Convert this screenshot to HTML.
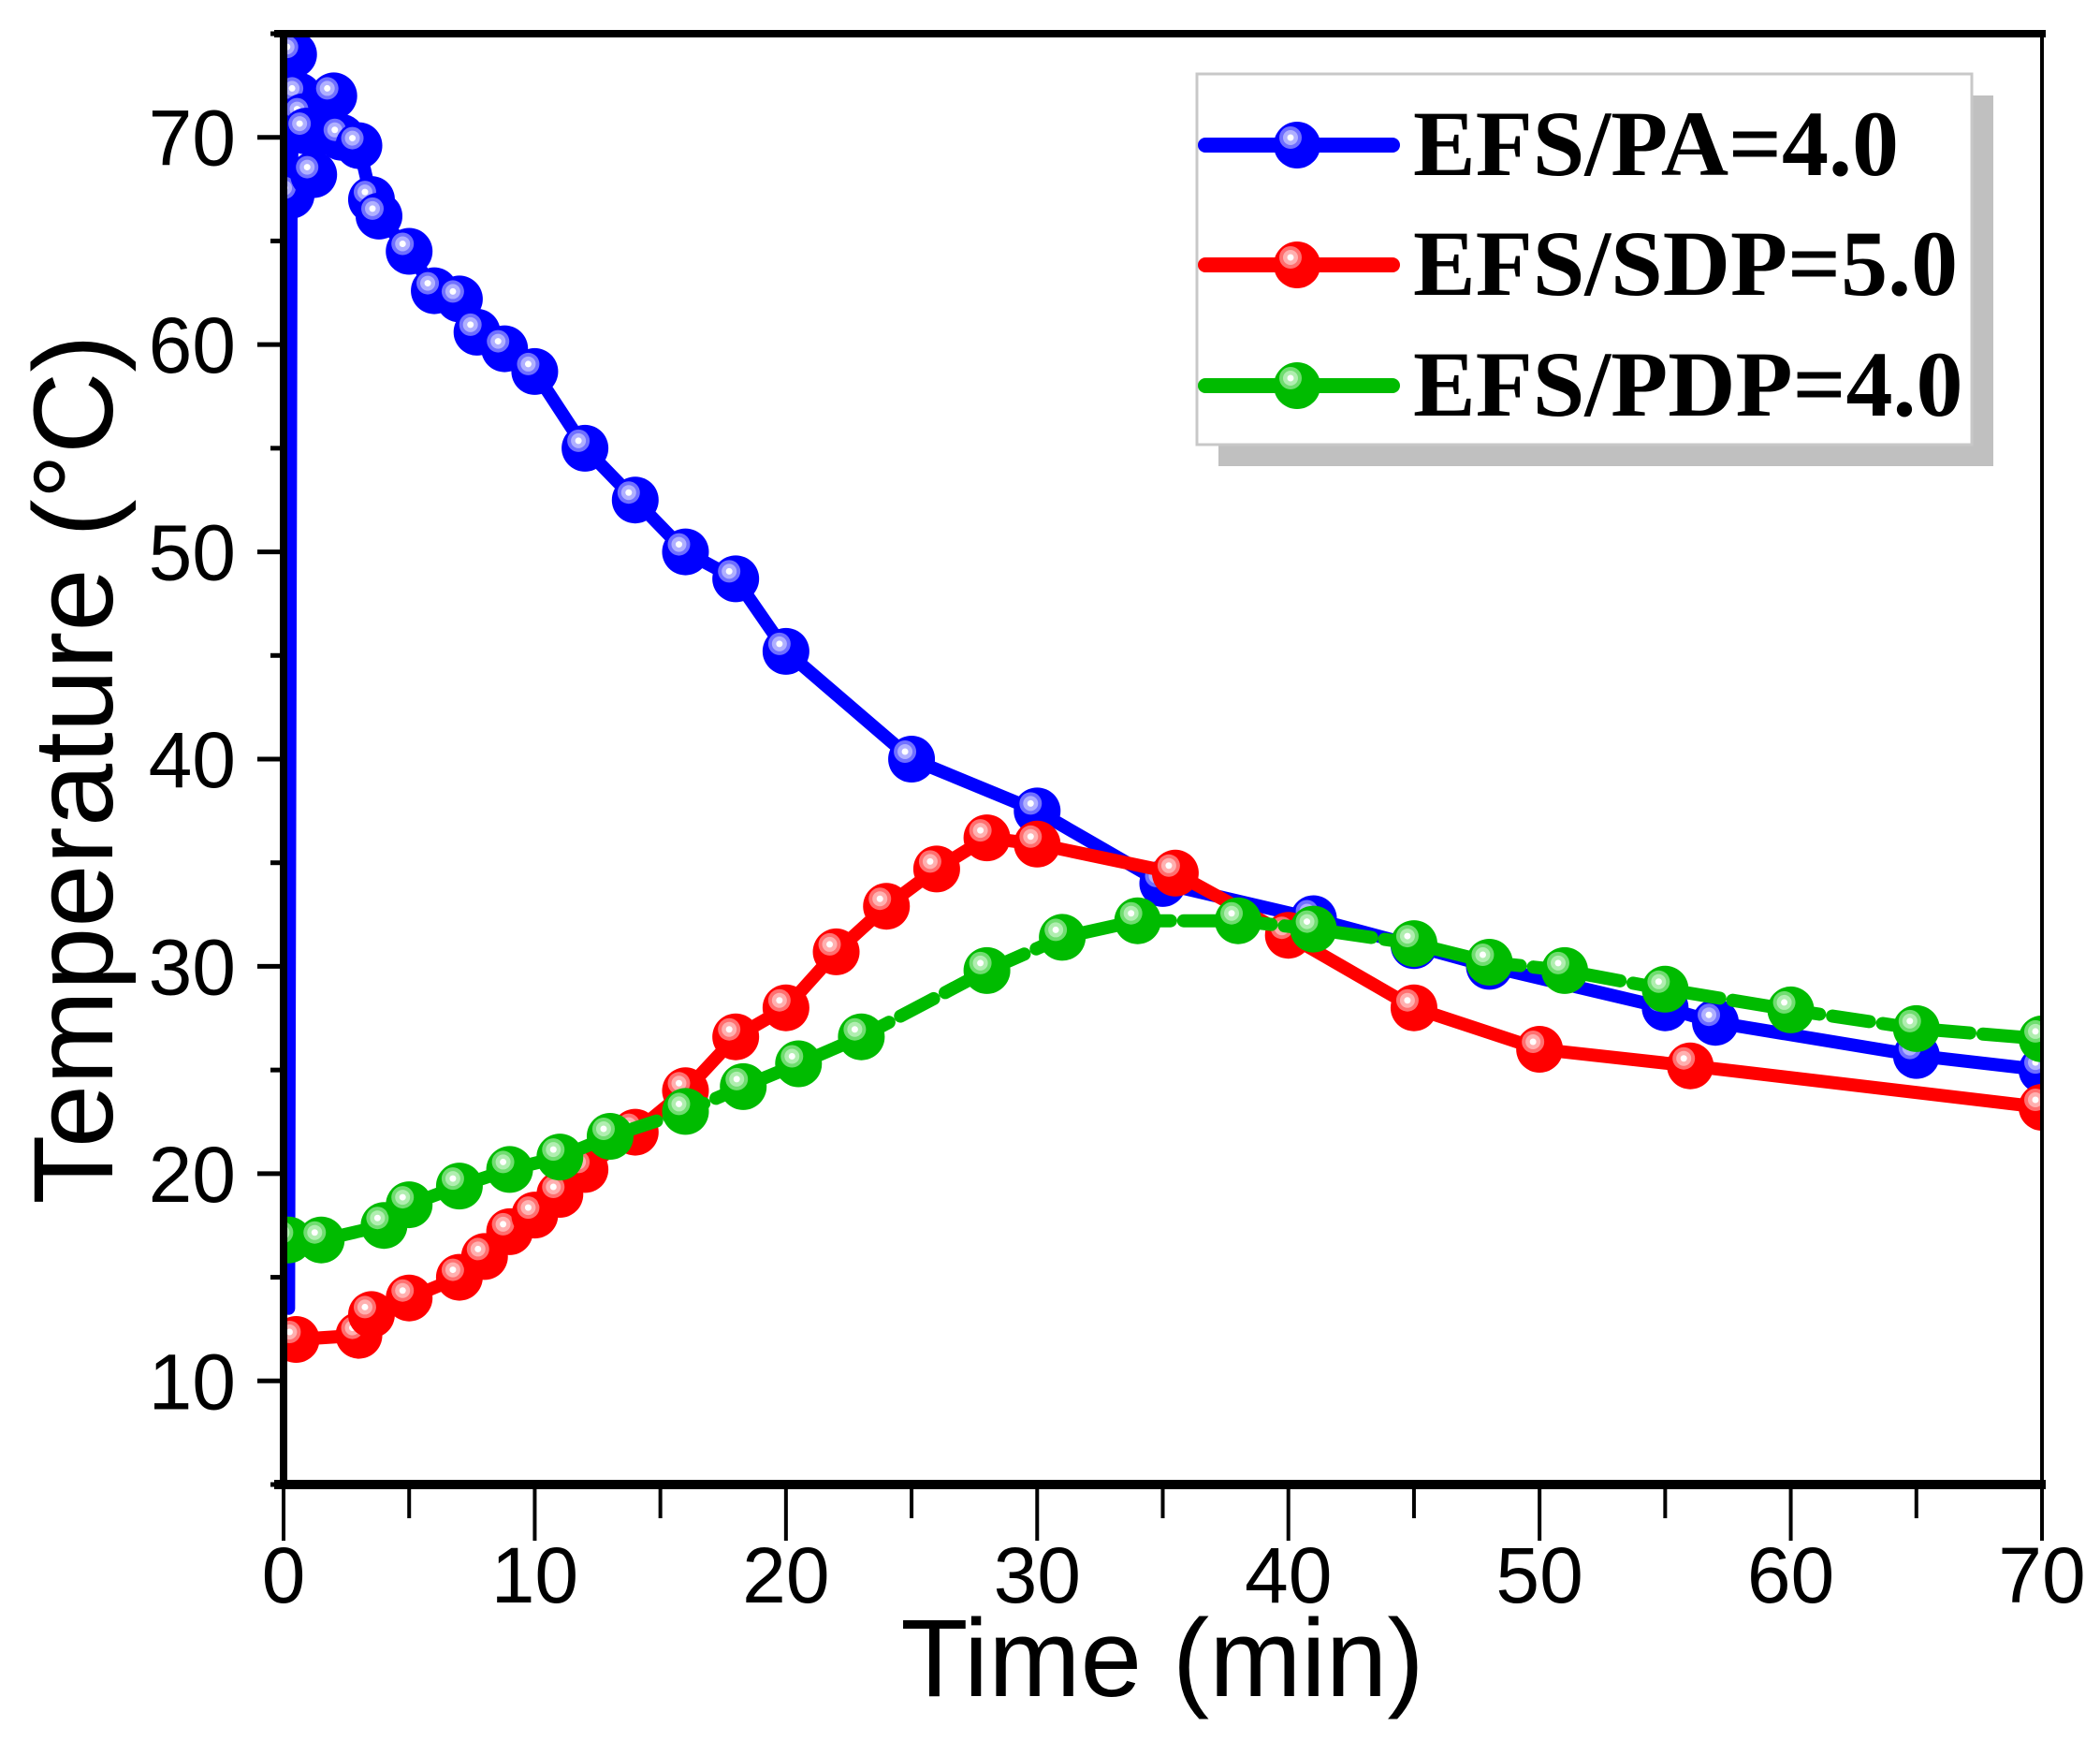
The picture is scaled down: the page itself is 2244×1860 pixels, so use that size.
<!DOCTYPE html>
<html><head><meta charset="utf-8"><style>
html,body{margin:0;padding:0;background:#fff;}
svg{display:block;}
</style></head><body>
<svg id="chart" width="2244" height="1860" viewBox="0 0 2244 1860" xmlns="http://www.w3.org/2000/svg">
<defs>
<clipPath id="plotclip"><rect x="303" y="36" width="1879" height="1550"/></clipPath>
</defs>
<g id="series" clip-path="url(#plotclip)"></g>
<g id="axes"></g>
<g id="legend"></g>
<text x="1242" y="1812" font-family="Liberation Sans, sans-serif" font-size="118" text-anchor="middle">Time (min)</text>
<text transform="translate(120,822) rotate(-90)" font-family="Liberation Sans, sans-serif" font-size="121" text-anchor="middle">Temperature (°C)</text>
</svg>
<script>
const xTicks=[0,10,20,30,40,50,60,70];
const yTicks=[10,20,30,40,50,60,70];
const paX=[0.2,0.3,0.4,0.6,0.8,0.9,1.2,2,2.3,3,3.5,3.8,5,6,7,7.7,8.8,10,12,14,16,18,20,25,30,35,41,45,48,55,57,65,70];
const paY=[13.5,67.2,74,72,71,70.3,68.2,72,70,69.6,67,66.2,64.5,62.6,62.2,60.6,59.8,58.7,55,52.5,50,48.7,45.2,40,37.5,34,32.3,31,30,28,27.3,25.7,25];
const sdpX=[0.5,3,3.5,5,7,8,9,10,11,12,14,16,18,20,22,24,26,28,30,35.5,40,45,50,56,70];
const sdpY=[12,12.2,13.2,14,15,16,17.2,18,19,20.2,22,24,26.6,28,30.7,32.9,34.7,36.2,35.9,34.5,31.5,28,26,25.2,23.2];
const pdpX=[0.2,1.5,4,5,7,9,11,13,16,18.3,20.5,23,28,31,34,38,41,45,48,51,55,60,65,70];
const pdpY=[16.8,16.8,17.5,18.5,19.4,20.2,20.8,21.8,23,24.2,25.3,26.6,29.8,31.4,32.2,32.2,31.8,31.1,30.2,29.8,28.9,27.9,27,26.5];
const labels=["EFS/PA=4.0","EFS/SDP=5.0","EFS/PDP=4.0"];

const X0=303,X1=2182,Y0=1586,Y1=36,xmin=0,xmax=70,ymin=5,ymax=75;
function sx(v){return X0+(v-xmin)/(xmax-xmin)*(X1-X0);}
function sy(v){return Y0-(v-ymin)/(ymax-ymin)*(Y0-Y1);}
const NS="http://www.w3.org/2000/svg";
function mk(tag,attrs,parent){const e=document.createElementNS(NS,tag);for(const k in attrs)e.setAttribute(k,attrs[k]);parent.appendChild(e);return e;}
const axes=document.getElementById('axes');
const series=document.getElementById('series');
const legend=document.getElementById('legend');

let fr=mk('rect',{x:X0,y:Y1,width:X1-X0,height:Y0-Y1,fill:'none',stroke:'#000','stroke-width':4},axes);


let la=mk('line',{x1:X0,y1:Y1-4,x2:X0,y2:Y0+4,stroke:'#000','stroke-width':8},axes);


let ba=mk('line',{x1:X0-10,y1:Y0,x2:X1+4,y2:Y0,stroke:'#000','stroke-width':10},axes);


let ta=mk('line',{x1:X0-10,y1:Y1,x2:X1+4,y2:Y1,stroke:'#000','stroke-width':8},axes);



xTicks.forEach(v=>{
  const x=sx(v);
  mk('line',{x1:x,y1:Y0,x2:x,y2:Y0+60,stroke:'#000','stroke-width':4},axes);
  const t=mk('text',{x:x,y:Y0+126,'font-family':'Liberation Sans, sans-serif','font-size':84,'text-anchor':'middle'},axes);
  t.textContent=v;
  
  
  if(v<70){const m=sx(v+5);mk('line',{x1:m,y1:Y0,x2:m,y2:Y0+36,stroke:'#000','stroke-width':4},axes);}
});
yTicks.forEach(v=>{
  const y=sy(v);
  mk('line',{x1:X0,y1:y,x2:X0-28,y2:y,stroke:'#000','stroke-width':5},axes);
  const t=mk('text',{x:252,y:y+30,'font-family':'Liberation Sans, sans-serif','font-size':84,'text-anchor':'end'},axes);
  t.textContent=v;
  
  
});
[5,15,25,35,45,55,65,75].forEach(v=>{const y=sy(v);mk('line',{x1:X0,y1:y,x2:X0-14,y2:y,stroke:'#000','stroke-width':5},axes);});

function marker(parent,cx,cy,col,light,lighter){
  const g=mk('g',{},parent);
  mk('circle',{cx:cx,cy:cy,r:25,fill:col},g);
  mk('circle',{cx:cx-7,cy:cy-8,r:12,fill:light},g);
  mk('circle',{cx:cx-7,cy:cy-8,r:8,fill:lighter},g);
  mk('circle',{cx:cx-7,cy:cy-8,r:3.5,fill:'#fff'},g);
  return g;
}
const defs=[
 {xs:paX,ys:paY,col:'#0000ff',l:'#7070ff',ll:'#b0b0ff',dash:'none',name:'series-efs-pa',skip:0},
 {xs:sdpX,ys:sdpY,col:'#ff0000',l:'#ff7070',ll:'#ffb0b0',dash:'none',name:'series-efs-sdp',skip:-1},
 {xs:pdpX,ys:pdpY,col:'#00bb00',l:'#70dd70',ll:'#b0eeb0',dash:'40 14',name:'series-efs-pdp',skip:-1}
];
defs.forEach((d,i)=>{
  const g=mk('g',{},series);
  
  
  const pts=d.xs.map((x,j)=>sx(x)+','+sy(d.ys[j])).join(' ');
  const pl=mk('polyline',{points:pts,fill:'none',stroke:d.col,'stroke-width':14,'stroke-linejoin':'round','stroke-linecap':'round','stroke-dasharray':d.dash},g);
  
  
  d.xs.forEach((x,j)=>{
    if(j===d.skip) return;
    const m=marker(g,sx(x),sy(d.ys[j]),d.col,d.l,d.ll);
    
    
  });
});

let sh=mk('rect',{x:1302,y:102,width:828,height:396,fill:'#c0c0c0'},legend);


let bx=mk('rect',{x:1279,y:79,width:828,height:396,fill:'#fff',stroke:'#c8c8c8','stroke-width':3},legend);


const ly=[155,283,412];
defs.forEach((d,i)=>{
  const g=mk('g',{},legend);
  
  
  mk('line',{x1:1288,y1:ly[i],x2:1488,y2:ly[i],stroke:d.col,'stroke-width':16,'stroke-linecap':'round'},g);
  marker(g,1386,ly[i],d.col,d.l,d.ll);
  const t=mk('text',{x:1510,y:ly[i]+32,'font-family':'Liberation Serif, serif','font-weight':'bold','font-size':100},g);
  t.textContent=labels[i];
  
  
});
</script>
</body></html>
